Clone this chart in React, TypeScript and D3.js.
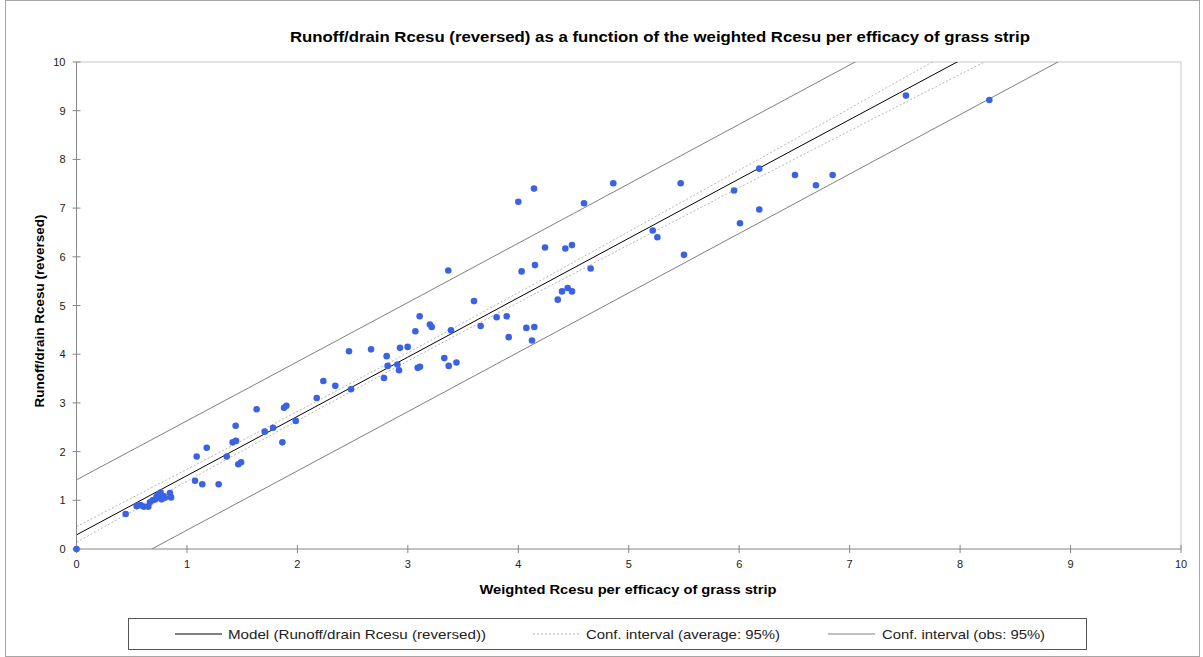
import React from "react";
import * as d3 from "d3";

const W = 1203;
const H = 657;

const chartTitle =
  "Runoff/drain Rcesu (reversed) as a function of the weighted Rcesu per efficacy of grass strip";
const xTitle = "Weighted Rcesu per efficacy of grass strip";
const yTitle = "Runoff/drain Rcesu (reversed)";

const xTicks = [0, 1, 2, 3, 4, 5, 6, 7, 8, 9, 10];
const yTicks = [0, 1, 2, 3, 4, 5, 6, 7, 8, 9, 10];

// observed points
const obsX = [
  0, 0.445, 0.545, 0.58, 0.61, 0.65, 0.665, 0.69, 0.715, 0.726, 0.75, 0.762, 0.77, 0.79, 0.8, 0.846, 0.856,
  1.073, 1.088, 1.139, 1.179, 1.287, 1.36, 1.441, 1.414, 1.444, 1.465, 1.49, 1.631, 1.704, 1.78, 1.864,
  1.879, 1.9, 1.985, 2.175, 2.235, 2.343, 2.467, 2.485, 2.667, 2.784, 2.808, 2.817, 2.905, 2.92, 2.929,
  2.998, 3.068, 3.107, 3.089, 3.11, 3.2, 3.216, 3.33, 3.37, 3.39, 3.44, 3.366, 3.599, 3.659, 3.804, 3.895,
  3.913, 4.0, 4.03, 4.073, 4.124, 4.142, 4.145, 4.151, 4.242, 4.357, 4.396, 4.426, 4.447, 4.486, 4.486,
  4.595, 4.655, 4.86, 5.217, 5.259, 5.47, 5.5, 5.953, 6.007, 6.182, 6.182, 6.505, 6.695, 6.846, 7.51, 8.265,
];
const obsY = [
  0, 0.72, 0.88, 0.9, 0.87, 0.87, 0.96, 1.0, 1.02, 1.08, 1.13, 1.16, 1.02, 1.08, 1.05, 1.15, 1.06,
  1.4, 1.9, 1.33, 2.08, 1.33, 1.9, 2.53, 2.19, 2.22, 1.74, 1.78, 2.87, 2.41, 2.49, 2.19,
  2.9, 2.94, 2.63, 3.1, 3.45, 3.35, 4.06, 3.28, 4.1, 3.51, 3.96, 3.76, 3.79, 3.67, 4.13,
  4.15, 4.47, 4.78, 3.72, 3.74, 4.61, 4.56, 3.92, 3.76, 4.49, 3.83, 5.72, 5.09, 4.58, 4.76, 4.78,
  4.35, 7.13, 5.7, 4.54, 4.28, 7.4, 4.56, 5.83, 6.19, 5.12, 5.29, 6.17, 5.36, 5.29, 6.24,
  7.1, 5.76, 7.51, 6.54, 6.4, 7.51, 6.04, 7.36, 6.69, 7.81, 6.97, 7.68, 7.47, 7.68, 9.31, 9.22,
];

// model line and confidence bands, read at these x positions
const bandX = [0, 3, 6, 9];
const modelY = [0.29, 3.94, 7.6, 11.25];
const avgUpperY = [0.46, 4.03, 7.78, 11.6];
const avgLowerY = [0.14, 3.86, 7.42, 10.9];
const obsUpperY = [1.42, 5.06, 8.72, 12.38];
const obsLowerY = [-0.83, 2.82, 6.48, 10.14];

const legendLabels = [
  "Model (Runoff/drain Rcesu (reversed))",
  "Conf. interval (average: 95%)",
  "Conf. interval (obs: 95%)",
];

const PL = 76.5;
const PR = 1181;
const PT = 62;
const PB = 549;

export default function App() {
  const x = d3.scaleLinear().domain([0, 10]).range([PL, PR]);
  const y = d3.scaleLinear().domain([0, 10]).range([PB, PT]);

  const line = d3
    .line<number>()
    .x((_, i) => x(bandX[i]))
    .y((d) => y(d))
    .curve(d3.curveMonotoneX);

  const tickFont = "'Liberation Sans', Arial, sans-serif";

  const legendItems = [
    { sx: 175, ex: 222, tx: 228, tl: 258, stroke: "#000", dash: undefined as string | undefined, label: legendLabels[0] },
    { sx: 533, ex: 580, tx: 586, tl: 194, stroke: "#b5b5b5", dash: "2,2", label: legendLabels[1] },
    { sx: 828, ex: 875, tx: 882, tl: 163, stroke: "#7f7f7f", dash: undefined, label: legendLabels[2] },
  ];

  return (
    <div style={{ position: "absolute", left: 0, top: 0 }}>
      <svg width={W} height={H} style={{ display: "block", background: "#fff" }}>
        <defs>
          <clipPath id="plotClip">
            <rect x={PL} y={PT} width={PR - PL} height={PB - PT} />
          </clipPath>
        </defs>
        <rect x={5.5} y={0.5} width={1194} height={656} fill="#fff" stroke="#a6a6a6" />

        {/* title */}
        <text
          x={660}
          y={42}
          textAnchor="middle"
          fontFamily={tickFont}
          fontWeight="bold"
          fontSize={14}
          textLength={740}
          lengthAdjust="spacingAndGlyphs"
          fill="#000"
        >
          {chartTitle}
        </text>

        {/* plot frame top/right */}
        <line x1={PL} x2={PR} y1={PT} y2={PT} stroke="#c8c8c8" />
        <line x1={PR} x2={PR} y1={PT} y2={PB} stroke="#c8c8c8" />

        {/* lines */}
        <g clipPath="url(#plotClip)" fill="none">
          <path d={line(obsUpperY) || ""} stroke="#7f7f7f" strokeWidth={1} />
          <path d={line(obsLowerY) || ""} stroke="#7f7f7f" strokeWidth={1} />
          <path d={line(avgUpperY) || ""} stroke="#b5b5b5" strokeWidth={1} strokeDasharray="2,2" />
          <path d={line(avgLowerY) || ""} stroke="#b5b5b5" strokeWidth={1} strokeDasharray="2,2" />
          <path d={line(modelY) || ""} stroke="#000" strokeWidth={1} />
        </g>

        {/* axes */}
        <line x1={PL} x2={PL} y1={PT} y2={PB} stroke="#868686" />
        <line x1={PL} x2={PR} y1={PB} y2={PB} stroke="#868686" />
        {yTicks.map((t) => (
          <g key={"y" + t}>
            <line x1={PL - 4} x2={PL + 4} y1={y(t)} y2={y(t)} stroke="#868686" />
            <text x={PL - 11} y={y(t) + 4} textAnchor="end" fontFamily={tickFont} fontSize={11} fill="#222">
              {t}
            </text>
          </g>
        ))}
        {xTicks.map((t) => (
          <g key={"x" + t}>
            <line x1={x(t)} x2={x(t)} y1={PB - 4} y2={PB + 4} stroke="#868686" />
            <text x={x(t)} y={PB + 19} textAnchor="middle" fontFamily={tickFont} fontSize={11} fill="#222">
              {t}
            </text>
          </g>
        ))}

        {/* points */}
        <g>
          {obsX.map((vx, i) => (
            <circle key={i} cx={x(vx)} cy={y(obsY[i])} r={3.3} fill="#3a62e3" />
          ))}
        </g>

        {/* axis titles */}
        <text
          x={628}
          y={594}
          textAnchor="middle"
          fontFamily={tickFont}
          fontWeight="bold"
          fontSize={13}
          textLength={297}
          lengthAdjust="spacingAndGlyphs"
        >
          {xTitle}
        </text>
        <text
          transform={`translate(44, ${311}) rotate(-90)`}
          textAnchor="middle"
          fontFamily={tickFont}
          fontWeight="bold"
          fontSize={13}
          textLength={193}
          lengthAdjust="spacingAndGlyphs"
        >
          {yTitle}
        </text>

        {/* legend */}
        <rect x={128.5} y={618.5} width={958} height={31} fill="#fff" stroke="#555" />
        {legendItems.map((it, i) => (
          <g key={i}>
            <line x1={it.sx} x2={it.ex} y1={634} y2={634} stroke={it.stroke} strokeDasharray={it.dash} />
            <text
              x={it.tx}
              y={639}
              fontFamily={tickFont}
              fontSize={13}
              textLength={it.tl}
              lengthAdjust="spacingAndGlyphs"
              fill="#222"
            >
              {it.label}
            </text>
          </g>
        ))}
      </svg>
    </div>
  );
}
